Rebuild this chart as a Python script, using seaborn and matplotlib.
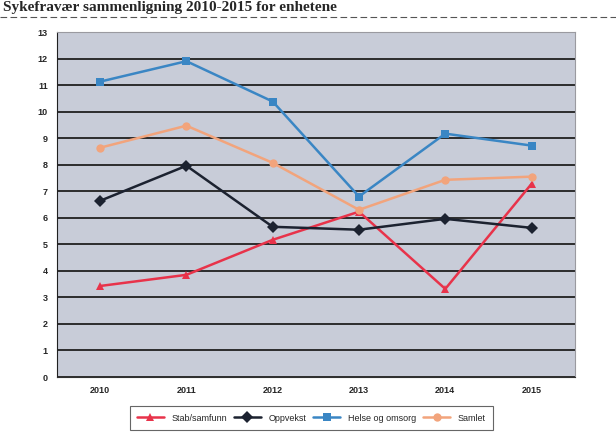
import pandas as pd
import matplotlib.pyplot as plt
import seaborn as sns

years = ['2010', '2011', '2012', '2013', '2014', '2015']
stab = [3.43, 3.85, 5.17, 6.23, 3.32, 7.28]
oppvekst = [6.64, 7.96, 5.66, 5.55, 5.96, 5.62]
helse = [11.13, 11.9, 10.38, 6.8, 9.17, 8.72]
samlet = [8.64, 9.47, 8.07, 6.3, 7.43, 7.55]
series = ['Stab/samfunn', 'Oppvekst', 'Helse og omsorg', 'Samlet']

df = pd.DataFrame({
    'år': years * 4,
    'verdi': stab + oppvekst + helse + samlet,
    'enhet': [s for s in series for _ in years],
})

sns.set_style('white')
plt.rcParams['font.family'] = ['Liberation Sans', 'DejaVu Sans']

fig = plt.figure(figsize=(6.16, 4.36), dpi=100)
ax = fig.add_axes([0.0925, 0.1353, 0.8405, 0.7913])
ax.set_facecolor('#c8ccd8')

palette = {'Stab/samfunn': '#e8334a', 'Oppvekst': '#1c2230',
           'Helse og omsorg': '#3a86c4', 'Samlet': '#f2a47c'}
markers = {'Stab/samfunn': '^', 'Oppvekst': 'D',
           'Helse og omsorg': 's', 'Samlet': 'o'}
sns.lineplot(data=df, x='år', y='verdi', hue='enhet', style='enhet',
             palette=palette, markers=markers, dashes=False, linewidth=1.8,
             markersize=6, markeredgewidth=0, sort=False, ax=ax, legend=True)

ax.set_ylim(0, 13)
ax.set_xlim(-0.5, 5.5)
ax.set_yticks(range(0, 14))
ax.yaxis.grid(True, color='#202020', linewidth=1.3)
ax.set_axisbelow(True)
ax.set_xlabel('')
ax.set_ylabel('')
ax.tick_params(axis='both', labelsize=6.5, length=3, width=0.8)
for lab in ax.get_xticklabels() + ax.get_yticklabels():
    lab.set_fontweight('bold')
for side in ['top', 'right']:
    ax.spines[side].set_color('#9a9aa0')
    ax.spines[side].set_linewidth(0.8)
ax.spines['left'].set_color('#202020')
ax.spines['bottom'].set_color('#303030')

handles, labels = ax.get_legend_handles_labels()
ax.legend_.remove()
leg = fig.legend(handles, labels, loc='center', bbox_to_anchor=(0.505, 0.041),
                 ncol=4, fontsize=6.5, frameon=True, fancybox=False,
                 edgecolor='#404040', handlelength=3, columnspacing=0.8,
                 borderpad=0.8)
leg.get_frame().set_linewidth(0.8)

fig.text(0.005, 0.997, 'Sykefravær sammenligning 2010-2015 for enhetene',
         fontsize=11, fontweight='bold', family='Liberation Serif',
         va='top', ha='left')
fig.add_artist(plt.Line2D([0.0, 1.0], [0.962, 0.962], color='#555555',
                          linewidth=0.8, linestyle=(0, (6, 3))))

fig.savefig('out.png', dpi=100)
